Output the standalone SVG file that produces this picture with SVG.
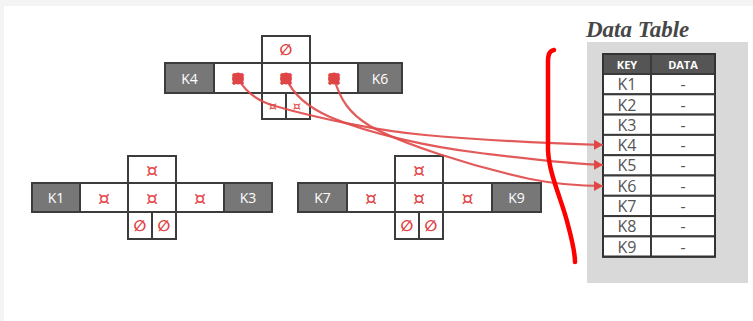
<svg xmlns="http://www.w3.org/2000/svg" width="753" height="321" viewBox="0 0 753 321">
  <defs>
    <style>
      .key { fill: #777777; stroke: #3c3c3c; stroke-width: 2; }
      .cell { fill: #ffffff; stroke: #3c3c3c; stroke-width: 2; }
      .keytxt { font-family: "Open Sans", "Liberation Sans", sans-serif; font-size: 14px; fill: #ffffff; text-anchor: middle; dominant-baseline: central; }
      .sym { font-family: "DejaVu Sans", sans-serif; font-size: 19px; fill: #e04545; text-anchor: middle; dominant-baseline: central; }
      .symS { font-family: "DejaVu Sans", sans-serif; font-size: 13px; fill: #e04545; text-anchor: middle; dominant-baseline: central; }
      .empty { font-family: "DejaVu Sans", sans-serif; font-size: 15px; font-weight: bold; fill: #e04545; text-anchor: middle; dominant-baseline: central; }
      .blob { fill: #e04545; }
      .blobtxt { font-family: "DejaVu Sans", sans-serif; font-size: 19px; font-weight: bold; fill: #e04545; stroke: #e04545; stroke-width: 1.2; text-anchor: middle; dominant-baseline: central; }
      .link { fill: none; stroke: #e04848; stroke-width: 2.2; stroke-opacity: 0.9; }
      .row { fill: #ffffff; stroke: #3a3a3a; stroke-width: 2; }
      .hdr { fill: #555555; stroke: #3a3a3a; stroke-width: 2; }
      .hdrtxt { font-family: "Open Sans", "Liberation Sans", sans-serif; font-size: 11px; font-weight: bold; fill: #ffffff; text-anchor: middle; dominant-baseline: central; }
      .rowtxt { font-family: "Open Sans", "Liberation Sans", sans-serif; font-size: 16px; fill: #555555; text-anchor: middle; dominant-baseline: central; }
    </style>
    <marker id="arrow" markerUnits="userSpaceOnUse" markerWidth="9" markerHeight="10" refX="9" refY="5" orient="auto">
      <path d="M0,0 L9,5 L0,10 z" fill="#e04848"/>
    </marker>
  </defs>

  <!-- page background -->
  <rect x="0" y="0" width="753" height="321" fill="#f4f4f4"/>
  <rect x="4" y="6" width="749" height="315" fill="#ffffff"/>

  <!-- parent node: K4 .. K6 -->
  <g id="node-k4-k6">
    <rect class="cell" x="262" y="36" width="48" height="27"/>
    <text class="empty" x="286" y="50">∅</text>
    <rect class="key" x="165" y="63" width="49" height="30"/>
    <text class="keytxt" x="189.5" y="78">K4</text>
    <rect class="cell" x="214" y="63" width="48" height="30"/>
    <rect class="cell" x="262" y="63" width="48" height="30"/>
    <rect class="cell" x="310" y="63" width="48" height="30"/>
    <rect class="key" x="358" y="63" width="44" height="30"/>
    <text class="keytxt" x="380" y="78">K6</text>
    <rect class="cell" x="262" y="93" width="24" height="26"/>
    <rect class="cell" x="286" y="93" width="24" height="26"/>
    <text class="symS" x="273" y="105">¤</text>
    <text class="symS" x="297" y="105">¤</text>
  </g>

  <!-- child node: K1 .. K3 -->
  <g id="node-k1-k3">
    <rect class="cell" x="128" y="156" width="48" height="27"/>
    <text class="sym" x="152" y="170">¤</text>
    <rect class="key" x="32" y="183" width="48" height="29"/>
    <text class="keytxt" x="56" y="197.5">K1</text>
    <rect class="cell" x="80" y="183" width="48" height="29"/>
    <rect class="cell" x="128" y="183" width="48" height="29"/>
    <rect class="cell" x="176" y="183" width="48" height="29"/>
    <rect class="key" x="224" y="183" width="48" height="29"/>
    <text class="keytxt" x="248" y="197.5">K3</text>
    <text class="sym" x="104" y="197.5">¤</text>
    <text class="sym" x="152" y="197.5">¤</text>
    <text class="sym" x="200" y="197.5">¤</text>
    <rect class="cell" x="128" y="212" width="24" height="27"/>
    <rect class="cell" x="152" y="212" width="24" height="27"/>
    <text class="empty" x="140" y="225.5">∅</text>
    <text class="empty" x="164" y="225.5">∅</text>
  </g>

  <!-- child node: K7 .. K9 -->
  <g id="node-k7-k9">
    <rect class="cell" x="395" y="156" width="48" height="27"/>
    <text class="sym" x="419" y="170">¤</text>
    <rect class="key" x="298" y="183" width="49" height="29"/>
    <text class="keytxt" x="322.5" y="197.5">K7</text>
    <rect class="cell" x="347" y="183" width="48" height="29"/>
    <rect class="cell" x="395" y="183" width="48" height="29"/>
    <rect class="cell" x="443" y="183" width="49" height="29"/>
    <rect class="key" x="492" y="183" width="49" height="29"/>
    <text class="keytxt" x="516.5" y="197.5">K9</text>
    <text class="sym" x="371" y="197.5">¤</text>
    <text class="sym" x="419" y="197.5">¤</text>
    <text class="sym" x="467.5" y="197.5">¤</text>
    <rect class="cell" x="395" y="212" width="24" height="27"/>
    <rect class="cell" x="419" y="212" width="24" height="27"/>
    <text class="empty" x="407" y="225.5">∅</text>
    <text class="empty" x="431" y="225.5">∅</text>
  </g>

  <!-- data table -->
  <g id="data-table">
    <text x="586" y="37" font-family="Liberation Serif, serif" font-size="23" font-weight="bold" font-style="italic" fill="#474747">Data Table</text>
    <rect x="587" y="42" width="161" height="241" fill="#d9d9d9"/>
    <rect class="hdr" x="603" y="54" width="48" height="20"/>
    <rect class="hdr" x="651" y="54" width="64" height="20"/>
    <text class="hdrtxt" x="627" y="64.5">KEY</text>
    <text class="hdrtxt" x="683" y="64.5">DATA</text>
    <g id="rows">
      <rect class="row" x="603" y="74" width="48" height="20.3"/><rect class="row" x="651" y="74" width="64" height="20.3"/>
      <rect class="row" x="603" y="94.3" width="48" height="20.3"/><rect class="row" x="651" y="94.3" width="64" height="20.3"/>
      <rect class="row" x="603" y="114.6" width="48" height="20.3"/><rect class="row" x="651" y="114.6" width="64" height="20.3"/>
      <rect class="row" x="603" y="134.9" width="48" height="20.3"/><rect class="row" x="651" y="134.9" width="64" height="20.3"/>
      <rect class="row" x="603" y="155.2" width="48" height="20.3"/><rect class="row" x="651" y="155.2" width="64" height="20.3"/>
      <rect class="row" x="603" y="175.5" width="48" height="20.3"/><rect class="row" x="651" y="175.5" width="64" height="20.3"/>
      <rect class="row" x="603" y="195.8" width="48" height="20.3"/><rect class="row" x="651" y="195.8" width="64" height="20.3"/>
      <rect class="row" x="603" y="216.1" width="48" height="20.3"/><rect class="row" x="651" y="216.1" width="64" height="20.3"/>
      <rect class="row" x="603" y="236.4" width="48" height="20.3"/><rect class="row" x="651" y="236.4" width="64" height="20.3"/>
    </g>
    <rect x="603" y="54" width="112" height="202.7" fill="none" stroke="#333333" stroke-width="2"/>
    <text class="rowtxt" x="627" y="84.2">K1</text><text class="rowtxt" x="683" y="84.2">-</text>
    <text class="rowtxt" x="627" y="104.5">K2</text><text class="rowtxt" x="683" y="104.5">-</text>
    <text class="rowtxt" x="627" y="124.8">K3</text><text class="rowtxt" x="683" y="124.8">-</text>
    <text class="rowtxt" x="627" y="145.1">K4</text><text class="rowtxt" x="683" y="145.1">-</text>
    <text class="rowtxt" x="627" y="165.4">K5</text><text class="rowtxt" x="683" y="165.4">-</text>
    <text class="rowtxt" x="627" y="185.7">K6</text><text class="rowtxt" x="683" y="185.7">-</text>
    <text class="rowtxt" x="627" y="206">K7</text><text class="rowtxt" x="683" y="206">-</text>
    <text class="rowtxt" x="627" y="226.3">K8</text><text class="rowtxt" x="683" y="226.3">-</text>
    <text class="rowtxt" x="627" y="246.6">K9</text><text class="rowtxt" x="683" y="246.6">-</text>
  </g>

  <!-- connectors: key pointers into the table -->
  <g id="connectors">
    <path class="link" marker-end="url(#arrow)" d="M238,78 C245,92 258,101 275,106 C320,119 380,131 425,135 C480,140 540,143 603,145"/>
    <path class="link" marker-end="url(#arrow)" d="M286,78 C292,92 305,106 330,117 C370,134 430,147 480,153 C530,159 570,164 603,165"/>
    <path class="link" marker-end="url(#arrow)" d="M334,78 C340,100 350,114 370,126 C400,143 470,166 530,179 C560,185 580,186 603,186"/>
  </g>

  <!-- pointer heads on the parent's cells -->
  <g id="pointer-heads">
    <circle class="blob" cx="238" cy="78.5" r="6"/>
    <text class="blobtxt" x="238" y="78">¤</text>
    <circle class="blob" cx="286" cy="78.5" r="6"/>
    <text class="blobtxt" x="286" y="78">¤</text>
    <circle class="blob" cx="334" cy="78.5" r="6"/>
    <text class="blobtxt" x="334" y="78">¤</text>
  </g>

  <!-- hand-drawn divider -->
  <path d="M554,50 C549,51 548,55 548,62 L548,150 C549,175 562,200 568,225 C572,240 575,252 575,262" fill="none" stroke="#ff0000" stroke-width="4.5" stroke-linecap="round"/>
</svg>
